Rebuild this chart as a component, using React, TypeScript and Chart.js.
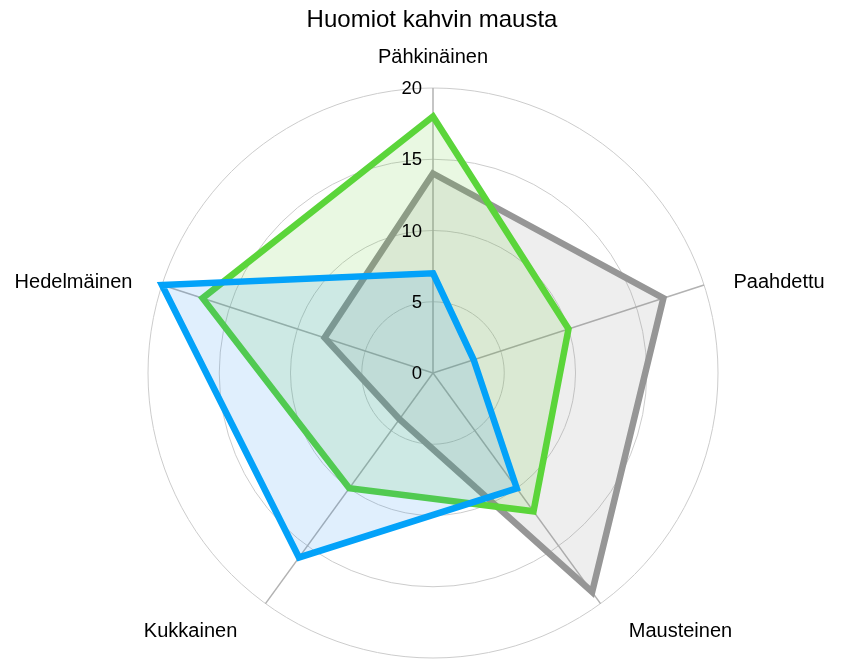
import React, { useEffect, useRef } from "react";
import { Chart, registerables } from "chart.js";

Chart.register(...registerables);

const chartTitle = "Huomiot kahvin mausta";
const categories = ["Pähkinäinen", "Paahdettu", "Mausteinen", "Kukkainen", "Hedelmäinen"];
const seriesNames = ["Sarja 1", "Sarja 2", "Sarja 3"];
const grayValues = [14, 17, 19, 4, 8];
const greenValues = [18, 10, 12, 10, 17];
const blueValues = [7, 3, 10, 16, 20];
const tickValues = [0, 5, 10, 15, 20];

const FONT = '"Liberation Sans", Arial, Helvetica, sans-serif';

const overlayPlugin = {
  id: "overlayText",
  afterDatasetsDraw(chart: any) {
    const scale = chart.scales.r;
    const ctx = chart.ctx as CanvasRenderingContext2D;
    ctx.save();
    ctx.fillStyle = "#000000";
    // tick labels
    ctx.font = `18.5px ${FONT}`;
    ctx.textAlign = "right";
    ctx.textBaseline = "middle";
    tickValues.forEach((v) => {
      const d = scale.getDistanceFromCenterForValue(v);
      ctx.fillText(String(v), scale.xCenter - 11, scale.yCenter - d + 1);
    });
    // point labels
    ctx.font = `20px ${FONT}`;
    categories.forEach((label, i) => {
      const p = scale.getPointPosition(i, scale.drawingArea + 31);
      const ang = (i * 2 * Math.PI) / categories.length;
      const s = Math.sin(ang);
      const c = Math.cos(ang);
      let x = p.x;
      let y = p.y;
      if (Math.abs(s) < 0.05) {
        ctx.textAlign = "center";
      } else {
        ctx.textAlign = s > 0 ? "left" : "right";
        x += Math.sign(s) * (c < 0 ? 10 : 0);
        y += c < 0 ? 3 : 7;
      }
      ctx.fillText(label, x, y);
    });
    // title
    ctx.font = `24px ${FONT}`;
    ctx.textAlign = "center";
    ctx.fillText(chartTitle, scale.xCenter - 1, 20);
    ctx.restore();
  },
};

export default function App() {
  const canvasRef = useRef<HTMLCanvasElement | null>(null);

  useEffect(() => {
    document.body.style.margin = "0";
    const canvas = canvasRef.current;
    if (!canvas) return;
    const chart = new Chart(canvas, {
      type: "radar",
      data: {
        labels: categories,
        datasets: [
          {
            label: seriesNames[0],
            data: grayValues,
            borderColor: "#969696",
            backgroundColor: "rgba(136,136,136,0.14)",
            fill: true,
            order: 3,
          },
          {
            label: seriesNames[1],
            data: greenValues,
            borderColor: "#5bd53a",
            backgroundColor: "rgba(86,201,32,0.13)",
            fill: true,
            order: 2,
          },
          {
            label: seriesNames[2],
            data: blueValues,
            borderColor: "#03a2f9",
            backgroundColor: "rgba(17,132,240,0.13)",
            fill: true,
            order: 1,
          },
        ],
      },
      options: {
        responsive: false,
        animation: false,
        layout: { padding: { left: 148, right: 133, top: 88, bottom: 12 } },
        elements: {
          line: { borderWidth: 6.5, tension: 0, borderJoinStyle: "miter" },
          point: { radius: 0, hoverRadius: 0 },
        },
        plugins: {
          legend: { display: false },
          title: { display: false },
          tooltip: { enabled: false },
        },
        scales: {
          r: {
            min: 0,
            max: 20,
            beginAtZero: true,
            ticks: { display: false, stepSize: 5 },
            pointLabels: { display: false },
            grid: { circular: true, color: "#cccccc", lineWidth: 1 },
            angleLines: { color: "#b2b2b2", lineWidth: 1.5 },
          },
        },
      },
      plugins: [overlayPlugin],
    });
    return () => chart.destroy();
  }, []);

  return (
    <div style={{ position: "absolute", left: 0, top: 0, width: 851, height: 670, background: "#ffffff" }}>
      <canvas ref={canvasRef} width={851} height={670} style={{ display: "block", width: 851, height: 670 }} />
    </div>
  );
}
